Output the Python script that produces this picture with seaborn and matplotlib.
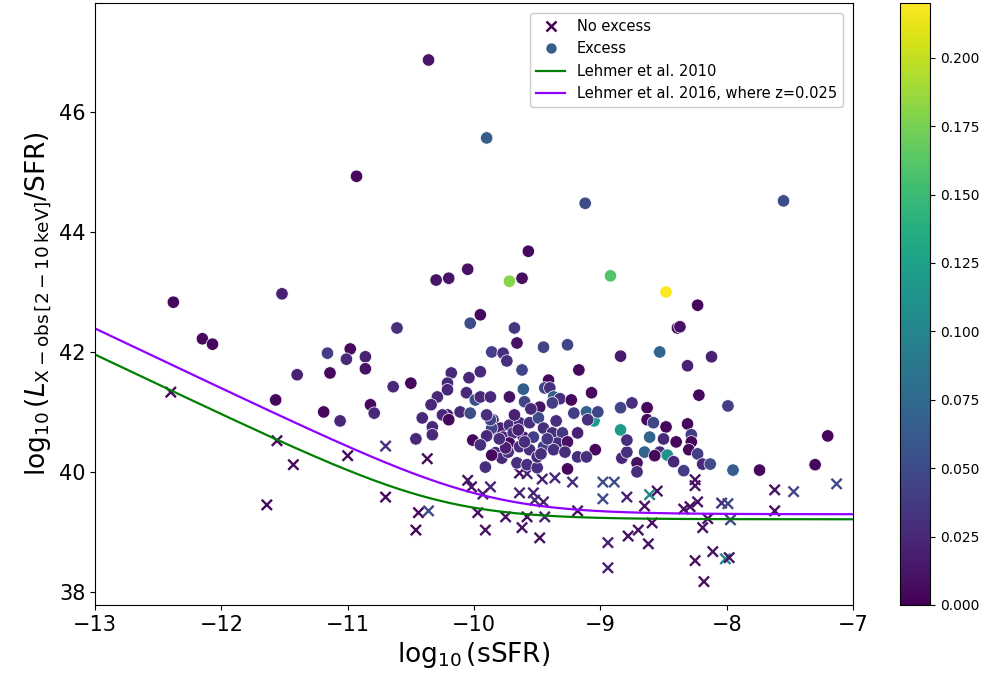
import numpy as np
import pandas as pd
import matplotlib
matplotlib.use("Agg")
import matplotlib.pyplot as plt
from matplotlib.lines import Line2D
from matplotlib.colors import Normalize
from matplotlib.cm import ScalarMappable
import seaborn as sns

# ---- data: "Excess" sources (circles) ----
exc_x = [-10.36, -9.90, -10.93, -9.12, -7.55, -9.57, -10.30, -10.20, -10.05, -9.72,
         -9.62, -8.92, -8.48, -12.38, -11.52, -8.23, -12.15, -12.07, -9.95, -10.03,
         -10.61, -9.68, -8.39, -8.37, -9.66, -9.45, -9.26, -9.86, -9.77, -9.74,
         -9.62, -9.17, -8.84, -8.53, -8.31, -8.12, -11.16, -10.98, -11.01, -10.86,
         -10.86, -11.40, -11.14, -11.57, -11.19, -11.06, -10.82, -10.79, -10.64, -10.50,
         -10.18, -10.21, -10.21, -10.29, -10.34, -10.04, -9.95, -10.06, -9.99, -9.95,
         -9.87, -9.72, -9.61, -9.60, -9.41, -9.44, -9.40, -9.37, -9.32, -9.23,
         -9.07, -9.48, -9.21, -9.11, -9.05, -9.02, -8.84, -8.75, -8.84, -8.63,
         -8.63, -8.58, -8.48, -8.31, -8.28, -8.28, -8.61, -8.50, -8.40, -8.30,
         -8.65, -8.53, -8.47, -8.57, -8.23, -8.42, -8.19, -8.13, -8.34, -7.95,
         -7.74, -7.30, -7.20, -8.22, -7.99, -8.71, -8.71, -8.83, -8.79, -8.79,
         -9.04, -9.26, -9.10, -9.38,
         -10.21, -10.25, -10.11, -10.03, -10.33, -10.33, -10.01, -9.85, -9.82, -9.79,
         -9.72, -9.64, -9.56, -9.49, -9.45, -9.77, -9.69, -9.61, -9.53, -9.72,
         -9.64, -9.56, -9.45, -9.83, -9.78, -9.73, -9.66, -9.58, -9.91, -9.50,
         -10.41, -10.46, -10.20, -9.86, -9.87, -9.86, -9.38, -9.30, -9.18, -9.34,
         -9.26, -9.37, -9.28, -9.18, -9.11,
         -9.90, -9.95, -9.68, -9.60, -9.50, -9.42, -9.35, -9.75, -9.90, -9.55,
         -9.47, -9.65, -9.80]
exc_y = [46.87, 45.57, 44.93, 44.48, 44.52, 43.68, 43.20, 43.23, 43.38, 43.18,
         43.23, 43.27, 43.00, 42.83, 42.97, 42.78, 42.22, 42.13, 42.62, 42.48,
         42.40, 42.40, 42.40, 42.42, 42.15, 42.08, 42.12, 42.00, 41.98, 41.85,
         41.70, 41.70, 41.93, 42.00, 41.77, 41.92, 41.98, 42.05, 41.88, 41.92,
         41.72, 41.62, 41.65, 41.20, 41.00, 40.85, 41.12, 40.98, 41.42, 41.48,
         41.65, 41.48, 41.37, 41.25, 41.12, 41.57, 41.67, 41.32, 41.20, 41.25,
         41.25, 41.25, 41.38, 41.17, 41.53, 41.40, 41.40, 41.25, 41.22, 41.20,
         41.32, 41.08, 40.98, 41.00, 40.85, 41.00, 41.07, 41.15, 40.70, 41.07,
         40.87, 40.82, 40.75, 40.80, 40.62, 40.50, 40.58, 40.55, 40.50, 40.37,
         40.33, 40.33, 40.28, 40.27, 40.30, 40.17, 40.13, 40.13, 40.02, 40.03,
         40.03, 40.12, 40.60, 41.28, 41.10, 40.15, 40.00, 40.23, 40.33, 40.53,
         40.37, 40.05, 40.87, 41.15,
         40.95, 40.95, 41.00, 40.98, 40.75, 40.62, 40.53, 40.87, 40.70, 40.73,
         40.78, 40.82, 40.82, 40.90, 40.73, 40.58, 40.65, 40.58, 40.58, 40.48,
         40.42, 40.37, 40.42, 40.32, 40.23, 40.33, 40.15, 40.12, 40.08, 40.07,
         40.90, 40.55, 40.87, 40.73, 40.87, 40.28, 40.65, 40.65, 40.65, 40.48,
         40.50, 40.37, 40.33, 40.25, 40.25,
         40.60, 40.45, 40.95, 40.50, 40.25, 40.55, 40.85, 40.40, 40.95, 41.05,
         40.30, 40.70, 40.55]
exc_z = [0.012, 0.065, 0.005, 0.05, 0.05, 0.005, 0.012, 0.012, 0.010, 0.18,
         0.008, 0.16, 0.22, 0.005, 0.02, 0.005, 0.005, 0.005, 0.005, 0.05,
         0.03, 0.035, 0.005, 0.01, 0.01, 0.045, 0.045, 0.04, 0.03, 0.03,
         0.045, 0.005, 0.015, 0.07, 0.02, 0.02, 0.04, 0.005, 0.025, 0.02,
         0.01, 0.02, 0.005, 0.005, 0.005, 0.025, 0.005, 0.025, 0.025, 0.005,
         0.025, 0.025, 0.025, 0.025, 0.025, 0.025, 0.025, 0.025, 0.05, 0.025,
         0.025, 0.01, 0.065, 0.045, 0.005, 0.045, 0.03, 0.065, 0.03, 0.005,
         0.005, 0.01, 0.04, 0.07, 0.12, 0.045, 0.045, 0.03, 0.12, 0.005,
         0.005, 0.045, 0.005, 0.005, 0.04, 0.005, 0.07, 0.025, 0.005, 0.005,
         0.07, 0.025, 0.11, 0.005, 0.04, 0.025, 0.025, 0.05, 0.04, 0.065,
         0.005, 0.005, 0.005, 0.005, 0.04, 0.01, 0.03, 0.025, 0.03, 0.03,
         0.005, 0.005, 0.03, 0.04,
         0.02, 0.025, 0.025, 0.05, 0.025, 0.025, 0.005, 0.03, 0.025, 0.02,
         0.03, 0.03, 0.03, 0.05, 0.03, 0.025, 0.03, 0.02, 0.04, 0.005,
         0.03, 0.03, 0.04, 0.025, 0.025, 0.03, 0.03, 0.03, 0.03, 0.03,
         0.025, 0.025, 0.005, 0.045, 0.045, 0.005, 0.03, 0.035, 0.02, 0.03,
         0.01, 0.03, 0.03, 0.03, 0.03,
         0.025, 0.03, 0.02, 0.03, 0.025, 0.035, 0.03, 0.02, 0.03, 0.025,
         0.03, 0.02, 0.03]

# ---- data: "No excess" sources (crosses) ----
nox_x = [-12.40, -11.56, -11.43, -11.64, -11.00, -10.70, -10.70, -10.37, -10.44, -10.36,
         -10.46, -10.05, -10.02, -9.87, -9.93, -9.64, -9.58, -9.46, -9.36, -9.22,
         -8.98, -8.89, -9.64, -9.53, -9.52, -9.45, -8.98, -8.79, -9.75, -9.58,
         -9.44, -9.62, -9.48, -9.18, -8.94, -8.94, -8.78, -8.55, -8.61, -8.65,
         -8.59, -8.70, -8.62, -8.25, -8.25, -8.23, -8.29, -8.34, -8.15, -8.19,
         -8.04, -7.99, -7.97, -7.62, -7.47, -7.13, -7.62, -8.25, -8.11, -8.01,
         -7.98, -8.18, -9.97, -9.91]
nox_y = [41.33, 40.52, 40.12, 39.45, 40.27, 40.43, 39.58, 40.22, 39.32, 39.35,
         39.03, 39.86, 39.75, 39.75, 39.63, 39.98, 39.97, 39.88, 39.90, 39.83,
         39.83, 39.83, 39.65, 39.65, 39.53, 39.50, 39.55, 39.58, 39.25, 39.25,
         39.25, 39.07, 38.90, 39.35, 38.82, 38.40, 38.93, 39.68, 39.62, 39.43,
         39.15, 39.03, 38.80, 39.87, 39.77, 39.50, 39.42, 39.38, 39.22, 39.07,
         39.48, 39.47, 39.20, 39.70, 39.67, 39.80, 39.35, 38.52, 38.67, 38.55,
         38.57, 38.17, 39.32, 39.03]
nox_z = [0.005, 0.005, 0.005, 0.005, 0.005, 0.03, 0.005, 0.005, 0.005, 0.05,
         0.005, 0.01, 0.01, 0.02, 0.02, 0.01, 0.02, 0.02, 0.025, 0.03,
         0.05, 0.05, 0.02, 0.02, 0.03, 0.02, 0.05, 0.02, 0.01, 0.01,
         0.02, 0.01, 0.01, 0.01, 0.02, 0.02, 0.01, 0.01, 0.1, 0.01,
         0.01, 0.01, 0.01, 0.01, 0.01, 0.01, 0.01, 0.01, 0.01, 0.01,
         0.03, 0.045, 0.045, 0.01, 0.045, 0.05, 0.01, 0.01, 0.01, 0.1,
         0.01, 0.01, 0.01, 0.01]

# ---- model relations (Lehmer et al.) ----
lehmer10_alpha = 9.05e28
lehmer10_beta = 1.62e39
lehmer16_alpha0 = 10 ** 29.37
lehmer16_gamma = 2.03
lehmer16_beta0 = 10 ** 39.28
lehmer16_delta = 1.31
redshift = 0.025

z_range = (0.0, 0.22)
x_ticks = [-13, -12, -11, -10, -9, -8, -7]
y_ticks = [38, 40, 42, 44, 46]

cmap = "viridis"

fig = plt.figure(figsize=(9.95, 6.84), dpi=100)
ax = fig.add_axes([0.0955, 0.1155, 0.7618, 0.8801])
cax = fig.add_axes([0.9045, 0.1155, 0.0302, 0.8801])

df_exc = pd.DataFrame({"x": exc_x, "y": exc_y, "z": exc_z})
df_nox = pd.DataFrame({"x": nox_x, "y": nox_y, "z": nox_z})

sns.scatterplot(data=df_nox, x="x", y="y", hue="z", palette=cmap, hue_norm=z_range,
                marker="x", s=55, linewidth=1.7, legend=False, ax=ax)
sns.scatterplot(data=df_exc, x="x", y="y", hue="z", palette=cmap, hue_norm=z_range,
                marker="o", s=80, edgecolor="white", linewidth=0.5, legend=False, ax=ax)

ssfr = np.linspace(-13, -7, 300)
l10 = np.log10(lehmer10_alpha / 10 ** ssfr + lehmer10_beta)
a16 = lehmer16_alpha0 * (1 + redshift) ** lehmer16_gamma
b16 = lehmer16_beta0 * (1 + redshift) ** lehmer16_delta
l16 = np.log10(a16 / 10 ** ssfr + b16)
line_green = "#008000"
line_purple = "#8f00ff"
sns.lineplot(x=ssfr, y=l10, color=line_green, linewidth=1.6, ax=ax)
sns.lineplot(x=ssfr, y=l16, color=line_purple, linewidth=1.6, ax=ax)

ax.set_xlim(-13, -7)
ax.set_ylim(37.78, 47.82)
ax.set_xticks(x_ticks)
ax.set_yticks(y_ticks)
ax.tick_params(axis="both", labelsize=15)
ax.set_xlabel(r"$\log_{10}(\mathrm{sSFR})$", fontsize=19)
ax.set_ylabel(r"$\log_{10}(L_{\mathrm{X-obs\,[2-10\,keV]}}/\mathrm{SFR})$", fontsize=19)

vir = plt.get_cmap(cmap)
handles = [
    Line2D([], [], linestyle="none", marker="x", markersize=7, markeredgewidth=1.8,
           color=vir(0.0)),
    Line2D([], [], linestyle="none", marker="o", markersize=8.5, color=vir(0.3),
           markeredgecolor="white"),
    Line2D([], [], color=line_green, linewidth=1.6),
    Line2D([], [], color=line_purple, linewidth=1.6),
]
labels = ["No excess", "Excess", "Lehmer et al. 2010", "Lehmer et al. 2016, where z=0.025"]
ax.legend(handles, labels, loc="upper right", fontsize=10.5, framealpha=1,
          borderaxespad=0.7)

sm = ScalarMappable(norm=Normalize(*z_range), cmap=cmap)
cb = fig.colorbar(sm, cax=cax)
cb.ax.tick_params(labelsize=10)

fig.savefig("out.png", dpi=100)
